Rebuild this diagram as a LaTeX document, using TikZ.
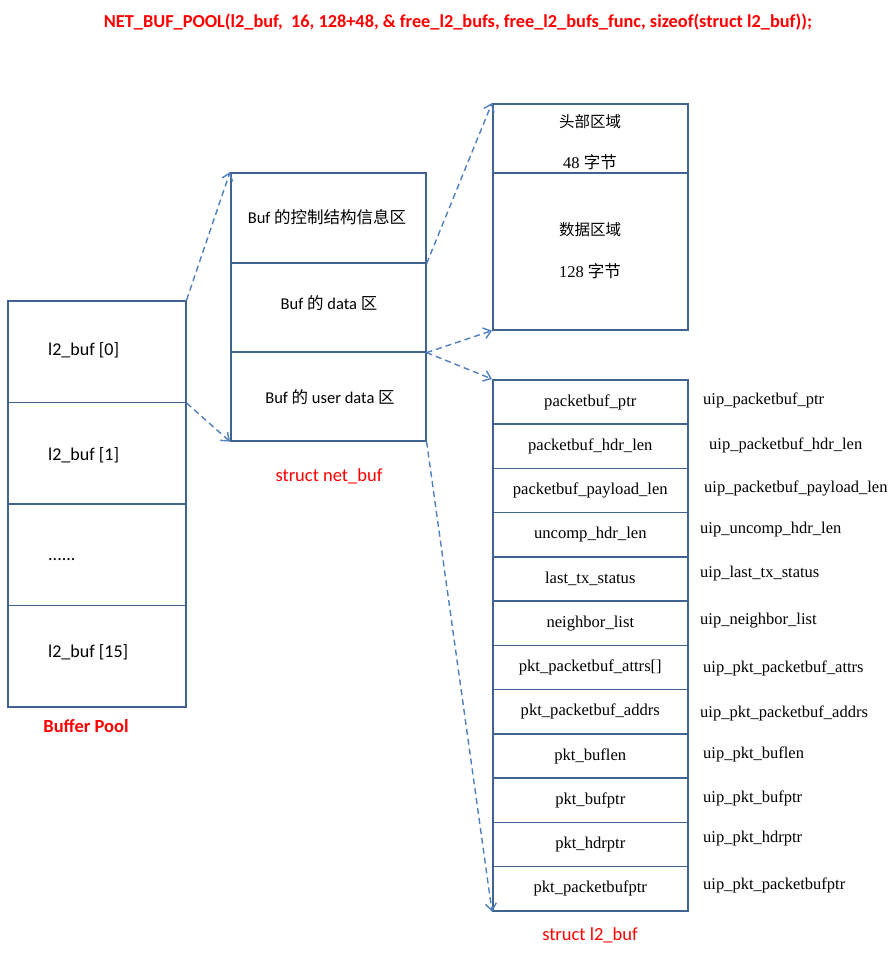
\documentclass[tikz,border=0pt]{standalone}
\usepackage{fontspec}
\setmainfont{Carlito}
\newfontfamily\tms{Liberation Serif}
\newfontfamily\cjk{Noto Sans CJK SC}
\usetikzlibrary{arrows.meta}
\definecolor{boxc}{HTML}{41638F}
\definecolor{arrc}{HTML}{4F7FBF}
\definecolor{redc}{HTML}{FF0000}
\begin{document}
\begin{tikzpicture}[x=1pt,y=-1pt,
  cell/.style={draw=boxc, line width=1.6pt, inner sep=0pt, anchor=north west},
  poolcell/.style={cell, minimum width=178pt, minimum height=101.5pt},
  midcell/.style={cell, minimum width=195pt},
  lcell/.style={cell, minimum width=195pt, minimum height=44.25pt, font=\tms\fontsize{16.6}{18}\selectfont},
  rlab/.style={anchor=west, inner sep=0pt, font=\tms\fontsize{16.5}{18}\selectfont},
  plab/.style={anchor=west, inner sep=0pt, font=\fontsize{18}{20}\selectfont},
  mlab/.style={inner sep=0pt, font=\fontsize{16.5}{18}\selectfont},
  redlab/.style={inner sep=0pt, text=redc, font=\fontsize{18.5}{20}\selectfont},
  dar/.style={draw=arrc, line width=1.4pt, dash pattern=on 6pt off 4pt, -{Straight Barb[length=7pt,width=11pt]}}]
\useasboundingbox (0,0) rectangle (890,955);

% title
\node[redlab, font=\bfseries\fontsize{18.3}{20}\selectfont] (title) at (458,22)
  {NET\_BUF\_POOL(l2\_buf,\ \ 16, 128+48, \& free\_l2\_bufs, free\_l2\_bufs\_func, sizeof(struct l2\_buf));};

% pool
\node[poolcell] (p0) at (7,300) {};
\node[poolcell] (p1) at (7,401.5) {};
\node[poolcell] (p2) at (7,503) {};
\node[poolcell] (p3) at (7,604.5) {};
\node[plab] (p0t) at (48,350) {l2\_buf [0]};
\node[plab] (p1t) at (48,455) {l2\_buf [1]};
\node[plab] (p2t) at (48,560) {......};
\node[plab] (p3t) at (48,652) {l2\_buf [15]};
\node[redlab, font=\bfseries\fontsize{18.5}{20}\selectfont] (poolname) at (86,726) {Buffer Pool};

% net_buf
\node[midcell, minimum height=90pt] (m1) at (230,172) {};
\node[midcell, minimum height=89pt] (m2) at (230,262) {};
\node[midcell, minimum height=89pt] (m3) at (230,351) {};
\node[mlab] (m1t) at (327,217) {Buf {\cjk 的控制结构信息区}};
\node[mlab] (m2t) at (329,303) {Buf {\cjk 的} data {\cjk 区}};
\node[mlab] (m3t) at (330,397) {Buf {\cjk 的} user data {\cjk 区}};
\node[redlab] (netbuf) at (329,476) {struct net\_buf};

% data area
\node[midcell, minimum height=69pt] (t1) at (492,103) {};
\node[midcell, minimum height=157pt] (t2) at (492,172) {};
\node[mlab, font=\cjk\fontsize{15.5}{18}\selectfont] (t1a) at (590,122) {头部区域};
\node[mlab, font=\tms\fontsize{16.5}{18}\selectfont] (t1b) at (590,162) {48 {\cjk 字节}};
\node[mlab, font=\cjk\fontsize{15.5}{18}\selectfont] (t2a) at (590,230) {数据区域};
\node[mlab, font=\tms\fontsize{16.5}{18}\selectfont] (t2b) at (590,271) {128 {\cjk 字节}};

% l2_buf
\foreach \i/\t in {1/packetbuf\_ptr, 2/packetbuf\_hdr\_len, 3/packetbuf\_payload\_len, 4/uncomp\_hdr\_len, 5/last\_tx\_status, 6/neighbor\_list, 7/pkt\_packetbuf\_attrs[], 8/pkt\_packetbuf\_addrs, 9/pkt\_buflen, 10/pkt\_bufptr, 11/pkt\_hdrptr, 12/pkt\_packetbufptr}
  \node[lcell] (r\i) at (492,{379+44.25*(\i-1)}) {\t};
\node[rlab] (u1) at (703,400) {uip\_packetbuf\_ptr};
\node[rlab] (u2) at (709,445) {uip\_packetbuf\_hdr\_len};
\node[rlab] (u3) at (704,488) {uip\_packetbuf\_payload\_len};
\node[rlab] (u4) at (700,530) {uip\_uncomp\_hdr\_len};
\node[rlab] (u5) at (700,574) {uip\_last\_tx\_status};
\node[rlab] (u6) at (700,621) {uip\_neighbor\_list};
\node[rlab] (u7) at (703,668) {uip\_pkt\_packetbuf\_attrs};
\node[rlab] (u8) at (700,713) {uip\_pkt\_packetbuf\_addrs};
\node[rlab] (u9) at (703,754) {uip\_pkt\_buflen};
\node[rlab] (u10) at (703,798) {uip\_pkt\_bufptr};
\node[rlab] (u11) at (703,839) {uip\_pkt\_hdrptr};
\node[rlab] (u12) at (703,885) {uip\_pkt\_packetbufptr};
\node[redlab] (l2name) at (590,935) {struct l2\_buf};

% connectors
\draw[dar] (p0.north east) -- (m1.north west);
\draw[dar] (p0.south east) -- (m3.south west);
\draw[dar] (m1.south east) -- (t1.north west);
\draw[dar] (m2.south east) -- (t2.south west);
\draw[dar] (m2.south east) -- (r1.north west);
\draw[dar] (m3.south east) -- (r12.south west);
\end{tikzpicture}
\end{document}
